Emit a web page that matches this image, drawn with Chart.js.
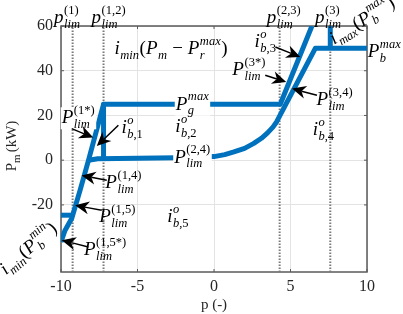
<!DOCTYPE html>
<html>
<head>
<meta charset="utf-8">
<script src="https://cdn.jsdelivr.net/npm/chart.js@4.4.1/dist/chart.umd.min.js"></script>
<style>
  body { margin: 0; background: #fff; }
</style>
</head>
<body>
<canvas id="chart_pm" width="403" height="314"></canvas>
<script>
var x_ticks = [-10, -5, 0, 5, 10];
var y_ticks = [-20, 0, 20, 40, 60];

// vertical limit lines p_lim^(1), p_lim^(1,2), p_lim^(2,3), p_lim^(3)
var p_lim = [-9.24, -7.22, 4.29, 7.6];

// outer boundary: P_lim^(1*) branch, P_g^max, right steep branch
var upper_p  = [-10, -9.74, -9.3, -8.76, -8.2, -7.22, 4.33, 6.4];
var upper_pm = [-36.6, -31.4, -26.1, -13.6, 0, 25, 25, 60];

// P_lim^(2,4) curve running into P_b^max
var lower_p  = [-8.2, -7.6, -5, -2.5, 0, 0.7, 1.3, 2, 2.6, 3.1, 3.5, 3.85, 4.1, 4.33, 6.62, 10];
var lower_pm = [0, 0.6, 0.9, 1.1, 1.6, 2.5, 3.7, 5.3, 7.5, 9.8, 12.2, 14.8, 17.2, 20.3, 50, 50];

// short pieces
var step12_p = [-7.22, -7.22], step12_pm = [25, 0.7];
var pbmin_p  = [-10, -9.24],   pbmin_pm  = [-24.6, -24.6];
var step3_p  = [7.6, 7.6],     step3_pm  = [50, 60];

var blue = '#0072BD';
var dot_color = '#7a7a7a';
var serif = '"Liberation Serif", "Times New Roman", serif';
var main_size = 19, script_size = 12.5;

// labels: tokens, data position of left/baseline, white box, rotation
var labels = [
  {t: ['P', {sup: '(1*)', sub: 'lim'}], p: -9.95, v: 16.5, bg: true},
  {t: ['i', {sup: 'o', sub: 'b,1'}], p: -6.05, v: 12.0},
  {t: ['i', {sub: 'min'}, '(P', {sub: 'm'}, ' \u2212 P', {sup: 'max', sub: 'r'}, ')'], p: -6.5, v: 47.3},
  {t: ['P', {sup: 'max', sub: 'g'}], p: -2.5, v: 22.6, bg: true},
  {t: ['i', {sup: 'o', sub: 'b,2'}], p: -2.54, v: 12.4},
  {t: ['P', {sup: '(2,4)', sub: 'lim'}], p: -2.6, v: -1.2, bg: true},
  {t: ['P', {sup: '(1,4)', sub: 'lim'}], p: -7.1, v: -12.6},
  {t: ['P', {sup: '(1,5)', sub: 'lim'}], p: -7.5, v: -27.8},
  {t: ['P', {sup: '(1,5*)', sub: 'lim'}], p: -8.5, v: -42.6},
  {t: ['i', {sup: 'o', sub: 'b,5'}], p: -3.06, v: -27.8},
  {t: ['i', {sup: 'o', sub: 'b,3'}], p: 2.65, v: 50.5},
  {t: ['P', {sup: '(3*)', sub: 'lim'}], p: 1.2, v: 38.0},
  {t: ['P', {sup: '(3,4)', sub: 'lim'}], p: 6.7, v: 24.5},
  {t: ['i', {sup: 'o', sub: 'b,4'}], p: 6.45, v: 11.1},
  {t: ['P', {sup: 'max', sub: 'b'}], p: 10.05, v: 46.0},
  {t: ['p', {sup: '(1)', sub: 'lim'}], p: -10.45, v: 61.2},
  {t: ['p', {sup: '(1,2)', sub: 'lim'}], p: -8.0, v: 61.2},
  {t: ['p', {sup: '(2,3)', sub: 'lim'}], p: 3.45, v: 61.2},
  {t: ['p', {sup: '(3)', sub: 'lim'}], p: 6.6, v: 61.2},
  {t: ['i', {sub: 'min'}, '(P', {sup: 'min', sub: 'b'}, ')'], p: -13.6, v: -51.5, rot: -41},
  {t: ['i', {sub: 'max'}, '(P', {sup: 'max', sub: 'b'}, ')'], p: 7.85, v: 51.6, rot: -32}
];

// arrows: tail (p, v) -> tip (p, v)
var arrows = [
  [-9.30, 14.1, -7.89, 10.1],
  [-6.25, 15.6, -7.66, 6.3],
  [-7.01, -9.0, -8.65, -6.8],
  [-7.34, -22.4, -9.08, -20.2],
  [-8.21, -38.8, -9.95, -35.8],
  [4.01, 50.6, 5.64, 46.1],
  [3.35, 38.0, 4.72, 35.0],
  [6.73, 29.0, 5.10, 32.0]
];

function xy(ps, vs) {
  return ps.map(function (p, i) { return {x: p, y: vs[i]}; });
}

function setFont(ctx, c, size, roman) {
  var it = !roman && /[A-Za-z]/.test(c);
  ctx.font = (it ? 'italic ' : '') + size + 'px ' + serif;
}
function runWidth(ctx, s, size, roman) {
  var w = 0;
  for (var c of s) { setFont(ctx, c, size, roman); w += ctx.measureText(c).width; }
  return w;
}
function runDraw(ctx, s, size, x, y, roman) {
  for (var c of s) { setFont(ctx, c, size, roman); ctx.fillText(c, x, y); x += ctx.measureText(c).width; }
  return x;
}
function mathWidth(ctx, toks) {
  var w = 0;
  toks.forEach(function (t) {
    if (typeof t === 'string') w += runWidth(ctx, t, main_size);
    else w += Math.max(runWidth(ctx, t.sup || '', script_size), runWidth(ctx, t.sub || '', script_size)) + 1;
  });
  return w;
}
function mathDraw(ctx, toks, x, y) {
  toks.forEach(function (t) {
    if (typeof t === 'string') { x = runDraw(ctx, t, main_size, x, y); return; }
    var x0 = x + 0.5, e1 = x0, e2 = x0;
    if (t.sup) e1 = runDraw(ctx, t.sup, script_size, x0, y - 9.5);
    if (t.sub) e2 = runDraw(ctx, t.sub, script_size, x0, y + 4.5);
    x = Math.max(e1, e2) + 0.5;
  });
}

function drawArrow(ctx, x1, y1, x2, y2) {
  var a = Math.atan2(y2 - y1, x2 - x1), L = 14, W = 6.5;
  ctx.strokeStyle = '#000';
  ctx.fillStyle = '#000';
  ctx.lineWidth = 1.5;
  ctx.beginPath();
  ctx.moveTo(x1, y1);
  ctx.lineTo(x2 - L * 0.7 * Math.cos(a), y2 - L * 0.7 * Math.sin(a));
  ctx.stroke();
  ctx.save();
  ctx.translate(x2, y2);
  ctx.rotate(a);
  ctx.beginPath();
  ctx.moveTo(0, 0);
  ctx.lineTo(-L, -W);
  ctx.lineTo(-L * 0.7, 0);
  ctx.lineTo(-L, W);
  ctx.closePath();
  ctx.fill();
  ctx.restore();
}

var frame = {
  id: 'frame',
  beforeDatasetsDraw: function (chart) {
    var ctx = chart.ctx, a = chart.chartArea;
    var sx = chart.scales.x, sy = chart.scales.y;
    ctx.save();
    ctx.strokeStyle = '#5a5a5a';
    ctx.lineWidth = 1.5;
    ctx.strokeRect(a.left, a.top, a.right - a.left, a.bottom - a.top);
    ctx.lineWidth = 1;
    ctx.beginPath();
    x_ticks.forEach(function (v) {
      var X = sx.getPixelForValue(v);
      ctx.moveTo(X, a.bottom); ctx.lineTo(X, a.bottom - 3);
      ctx.moveTo(X, a.top); ctx.lineTo(X, a.top + 3);
    });
    y_ticks.forEach(function (v) {
      var Y = sy.getPixelForValue(v);
      ctx.moveTo(a.left, Y); ctx.lineTo(a.left + 3, Y);
      ctx.moveTo(a.right, Y); ctx.lineTo(a.right - 3, Y);
    });
    ctx.stroke();
    ctx.restore();
  },
  afterDraw: function (chart) {
    var ctx = chart.ctx, a = chart.chartArea;
    var sx = chart.scales.x, sy = chart.scales.y;
    ctx.save();
    ctx.textBaseline = 'alphabetic';
    ctx.textAlign = 'left';
    labels.forEach(function (l) {
      var X = sx.getPixelForValue(l.p), Y = sy.getPixelForValue(l.v);
      ctx.save();
      ctx.translate(X, Y);
      if (l.rot) ctx.rotate(l.rot * Math.PI / 180);
      if (l.bg) {
        ctx.fillStyle = '#fff';
        ctx.fillRect(-1, -16, mathWidth(ctx, l.t) + 2, 22);
      }
      ctx.fillStyle = '#000';
      mathDraw(ctx, l.t, 0, 0);
      ctx.restore();
    });
    arrows.forEach(function (r) {
      drawArrow(ctx, sx.getPixelForValue(r[0]), sy.getPixelForValue(r[1]),
                sx.getPixelForValue(r[2]), sy.getPixelForValue(r[3]));
    });
    // axis titles
    ctx.fillStyle = '#262626';
    ctx.save();
    ctx.translate(16, (a.top + a.bottom) / 2 - 3);
    ctx.rotate(-Math.PI / 2);
    ctx.font = '15px ' + serif;
    var w = ctx.measureText('P').width + 7 + ctx.measureText(' (kW)').width;
    var x = -w / 2;
    ctx.fillText('P', x, 0);
    x += ctx.measureText('P').width;
    ctx.font = '11px ' + serif;
    ctx.fillText('m', x, 4);
    x += 8;
    ctx.font = '15px ' + serif;
    ctx.fillText(' (kW)', x - 1, 0);
    ctx.restore();
    ctx.font = '15px ' + serif;
    ctx.textAlign = 'center';
    ctx.fillText('p (-)', (a.left + a.right) / 2, 309);
    ctx.restore();
  }
};

var datasets = [
  {data: xy(upper_p, upper_pm)},
  {data: xy(lower_p, lower_pm)},
  {data: xy(step12_p, step12_pm)},
  {data: xy(pbmin_p, pbmin_pm)},
  {data: xy(step3_p, step3_pm)}
].map(function (d) {
  d.borderColor = blue;
  d.borderWidth = 5;
  d.borderJoinStyle = 'round';
  d.order = 1;
  return d;
});
p_lim.forEach(function (p) {
  datasets.push({
    data: [{x: p, y: -50}, {x: p, y: 60}],
    borderColor: dot_color,
    borderWidth: 2,
    borderDash: [1.5, 1.5],
    order: 2
  });
});
datasets.forEach(function (d) {
  d.showLine = true;
  d.pointRadius = 0;
  d.fill = false;
});

var chart = new Chart(document.getElementById('chart_pm').getContext('2d'), {
  type: 'scatter',
  data: {datasets: datasets},
  options: {
    responsive: false,
    animation: false,
    devicePixelRatio: 1,
    layout: {padding: {top: 26, right: 36, left: 0, bottom: 0}},
    plugins: {legend: {display: false}, tooltip: {enabled: false}},
    scales: {
      x: {
        type: 'linear', min: -10, max: 10,
        afterBuildTicks: function (s) { s.ticks = x_ticks.map(function (v) { return {value: v}; }); },
        afterFit: function (s) { s.height = 42; },
        ticks: {color: '#262626', font: {family: serif, size: 16}, padding: 5, maxRotation: 0,
                callback: function (v) { return String(v); }},
        grid: {color: '#e3e3e3', drawTicks: false},
        border: {display: false}
      },
      y: {
        type: 'linear', min: -50, max: 60,
        afterBuildTicks: function (s) { s.ticks = y_ticks.map(function (v) { return {value: v}; }); },
        afterFit: function (s) { s.width = 61; },
        ticks: {color: '#262626', font: {family: serif, size: 16}, padding: 8,
                callback: function (v) { return String(v); }},
        grid: {color: '#e3e3e3', drawTicks: false},
        border: {display: false}
      }
    }
  },
  plugins: [frame]
});
</script>
</body>
</html>
